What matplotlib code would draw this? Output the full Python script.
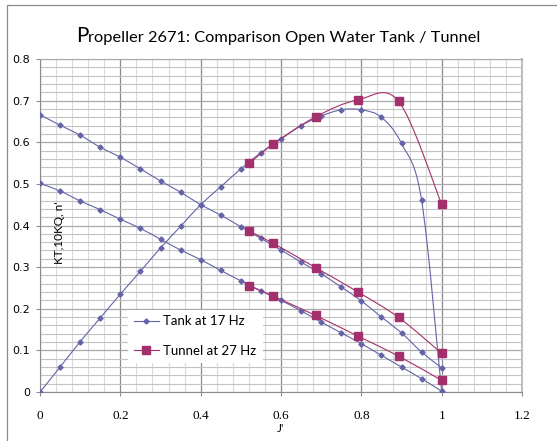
import numpy as np
import matplotlib
matplotlib.use("Agg")
import matplotlib.pyplot as plt
from matplotlib.path import Path
from matplotlib.patches import PathPatch, Rectangle
from matplotlib.lines import Line2D
from matplotlib.ticker import MultipleLocator, FuncFormatter

# valori
j_tank = [0.0, 0.05, 0.1, 0.15, 0.2, 0.25, 0.3, 0.35, 0.4, 0.45, 0.5,
          0.55, 0.6, 0.65, 0.7, 0.75, 0.8, 0.85, 0.9, 0.95, 1.0]
kt_tank = [0.501, 0.483, 0.459, 0.438, 0.415, 0.393, 0.367, 0.341, 0.318, 0.292, 0.267,
           0.243, 0.220, 0.195, 0.168, 0.142, 0.116, 0.088, 0.060, 0.032, 0.002]
kq10_tank = [0.666, 0.641, 0.617, 0.588, 0.564, 0.536, 0.507, 0.480, 0.450, 0.425, 0.397,
             0.369, 0.341, 0.312, 0.284, 0.252, 0.219, 0.180, 0.142, 0.096, 0.058]
eta_tank = [0.0, 0.060, 0.121, 0.178, 0.235, 0.290, 0.346, 0.398, 0.450, 0.493, 0.536,
            0.575, 0.608, 0.640, 0.663, 0.678, 0.678, 0.660, 0.597, 0.461, 0.0]

j_tunnel = [0.521, 0.581, 0.686, 0.792, 0.893, 1.0]
kt_tunnel = [0.255, 0.230, 0.184, 0.134, 0.086, 0.028]
kq10_tunnel = [0.386, 0.357, 0.299, 0.240, 0.179, 0.093]
eta_tunnel = [0.549, 0.596, 0.661, 0.702, 0.698, 0.451]

title = "Propeller 2671: Comparison Open Water Tank / Tunnel"
label_tank = "Tank at 17 Hz"
label_tunnel = "Tunnel at 27 Hz"

TANK = "#6464a8"
TUNNEL = "#a3306c"


def smooth_path(x, y):
    """Curva liscia stile Excel (Bezier tipo Catmull-Rom) tra i punti dati"""
    p = np.column_stack([x, y]).astype(float)
    n = len(p)
    verts = [p[0]]
    codes = [Path.MOVETO]
    for i in range(n - 1):
        p0 = p[i - 1] if i > 0 else p[i]
        p3 = p[i + 2] if i + 2 < n else p[i + 1]
        c1 = p[i] + (p[i + 1] - p0) / 6.0
        c2 = p[i + 1] - (p3 - p[i]) / 6.0
        verts += [c1, c2, p[i + 1]]
        codes += [Path.CURVE4] * 3
    return Path(verts, codes)


fig = plt.figure(figsize=(5.57, 4.41), dpi=100)
ax = fig.add_axes([40 / 557, 49 / 441, 482 / 557, 333 / 441])

# bordo del grafico (solo sinistra e alto visibili)
fig.add_artist(Rectangle((7 / 557, -0.2), 1.2, 1.2 - 5 / 441, transform=fig.transFigure,
                         fill=False, edgecolor="#8a8a8a", linewidth=0.9))

ax.set_xlim(0, 1.2)
ax.set_ylim(0, 0.8)
ax.xaxis.set_major_locator(MultipleLocator(0.2))
ax.xaxis.set_minor_locator(MultipleLocator(0.04))
ax.yaxis.set_major_locator(MultipleLocator(0.1))
ax.yaxis.set_minor_locator(MultipleLocator(0.02))
fmt = FuncFormatter(lambda v, pos: "%g" % round(v, 2))
ax.xaxis.set_major_formatter(fmt)
ax.yaxis.set_major_formatter(fmt)

ax.set_axisbelow(True)
ax.grid(which="minor", axis="x", color="#dadada", linewidth=0.8)
ax.grid(which="major", axis="x", color="#8c8c8c", linewidth=0.9)
ax.grid(which="minor", axis="y", color="#c4c4c4", linewidth=0.8)
ax.grid(which="major", axis="y", color="#a8a8a8", linewidth=0.9)

ax.tick_params(which="minor", length=0)
ax.tick_params(axis="x", which="major", direction="out", length=3, color="#8c8c8c",
               pad=10, labelsize=9.5)
ax.tick_params(axis="y", which="major", direction="out", length=3, color="#8c8c8c",
               pad=4, labelsize=8)
for lab in ax.get_xticklabels():
    lab.set_fontfamily("Liberation Serif")
ax.spines["left"].set_color("#8c8c8c")
ax.spines["bottom"].set_color("#8c8c8c")
ax.spines["right"].set_color("#c0c0c0")
ax.spines["right"].set_linewidth(1.5)
ax.spines["top"].set_color("#a8a8a8")

# serie Tank
for yv in (kt_tank, kq10_tank, eta_tank):
    ax.add_patch(PathPatch(smooth_path(j_tank, yv), fill=False, edgecolor=TANK,
                           linewidth=0.8, zorder=3))
    ax.plot(j_tank, yv, linestyle="none", marker="D", markersize=2.6,
            color=TANK, zorder=4)

# serie Tunnel
for yv in (kt_tunnel, kq10_tunnel, eta_tunnel):
    ax.add_patch(PathPatch(smooth_path(j_tunnel, yv), fill=False, edgecolor=TUNNEL,
                           linewidth=0.8, zorder=5))
    ax.plot(j_tunnel, yv, linestyle="none", marker="s", markersize=5.6,
            color=TUNNEL, zorder=6, clip_on=False)

handles = [Line2D([], [], color=TANK, linewidth=0.8, marker="D", markersize=2.6),
           Line2D([], [], color=TUNNEL, linewidth=0.8, marker="s", markersize=5.6)]
leg = ax.legend(handles, [label_tank, label_tunnel], loc="center",
                bbox_to_anchor=(0.322, 0.168), frameon=True, fancybox=False,
                framealpha=1, edgecolor="none", facecolor="white",
                prop={"family": "Lato", "size": 9.5}, labelspacing=1.3,
                handlelength=1.9, handletextpad=0.35, borderpad=0.45,
                borderaxespad=0)
leg.set_zorder(7)

ax.text(0.041, 0.477, "KT,10KQ, n'", transform=ax.transAxes, rotation=90,
        ha="center", va="center", fontsize=8.5, family="Lato", zorder=8)
ax.set_xlabel("J'", fontsize=8.5, family="Lato", labelpad=1)

# titolo con la "P" iniziale più grande
t = fig.text(0.5 + 6 / 557, 1 - 38 / 441, title[1:], ha="center", va="center",
             fontsize=11.8, family="Lato")
ax.annotate(title[0], xy=(0, 0.2), xycoords=t, ha="right", va="baseline",
            fontsize=14.8, family="Lato", annotation_clip=False)

fig.savefig("out.png", dpi=100)
